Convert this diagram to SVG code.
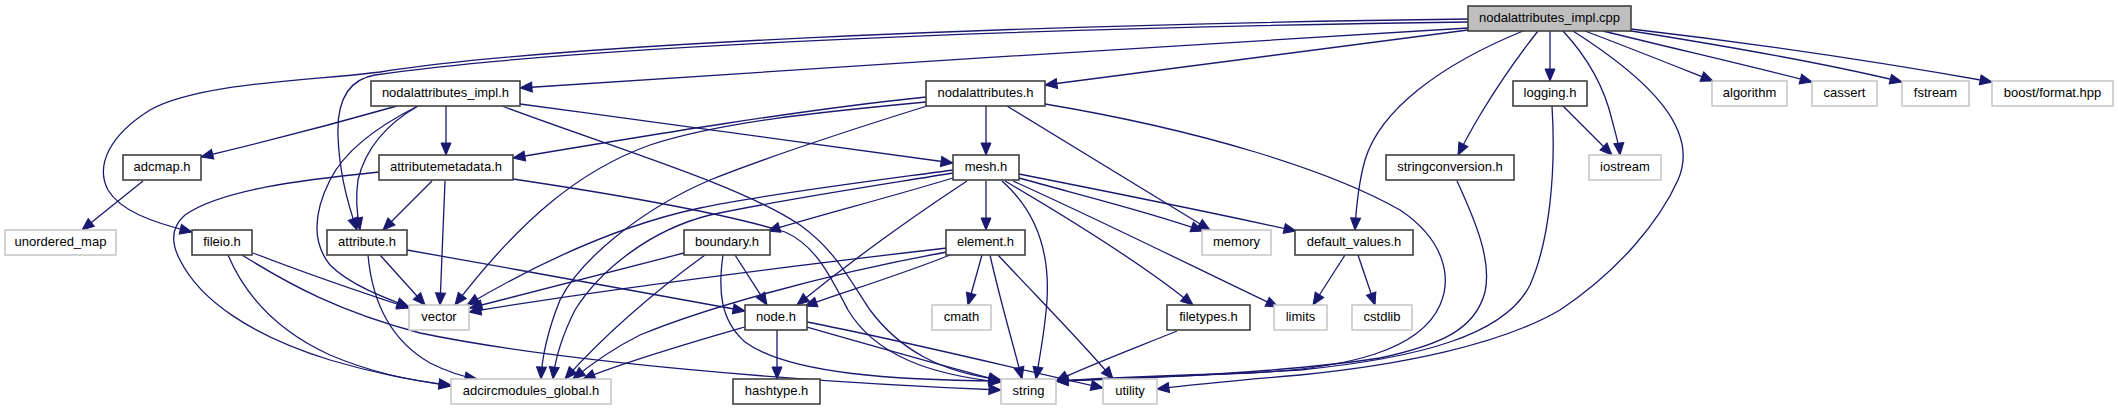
<svg xmlns="http://www.w3.org/2000/svg" width="2118" height="411" viewBox="0 0 2118 411">
<style>
.n rect{fill:#ffffff;stroke:#404040;stroke-width:1.6}
.x rect{fill:#ffffff;stroke:#c8c8c8;stroke-width:1.6}
.m rect{fill:#bfbfbf;stroke:#404040;stroke-width:1.6}
text{font-family:"Liberation Sans",Arial,sans-serif;font-size:13px;fill:#000;text-anchor:middle}
#edges path{fill:none;stroke:#191970;stroke-width:1.3;marker-end:url(#ah)}
</style>
<defs>
<marker id="ah" markerUnits="userSpaceOnUse" markerWidth="14" markerHeight="12" refX="12" refY="5" orient="auto" overflow="visible">
<path d="M0,0 L12,5 L0,10 z" fill="#191970" stroke="#191970" stroke-width="1"/>
</marker>
</defs>
<rect width="2118" height="411" fill="#ffffff"/>
<g id="edges">
<path d="M1468,28 C1200,45 800,68 520,88"/>
<path d="M1468,30 C1320,48 1180,68 1045,85"/>
<path d="M1468,22 C1000,28 560,48 375,75 C345,80 337,105 338,135 C339,170 348,205 357,230"/>
<path d="M1468,19 C1000,25 550,45 380,72 C320,80 200,82 150,110 C110,135 95,165 108,190 C120,210 150,222 192,232"/>
<path d="M1523,31 C1440,65 1380,110 1365,160 C1358,185 1356,210 1355,230"/>
<path d="M1538,31 C1515,60 1495,90 1480,115 C1470,132 1463,145 1458,155"/>
<path d="M1550,31 L1550,81"/>
<path d="M1563,31 C1590,60 1605,90 1612,120 C1616,135 1619,145 1620,155"/>
<path d="M1573,31 C1650,80 1700,130 1678,180 C1660,220 1620,270 1560,310 C1500,345 1400,365 1300,375 C1230,381 1190,385 1157,389"/>
<path d="M1585,31 C1630,48 1670,64 1713,81"/>
<path d="M1603,31 C1680,50 1750,66 1812,82"/>
<path d="M1625,30 C1720,45 1820,62 1902,82"/>
<path d="M1631,29 C1760,44 1880,62 1992,82"/>
<path d="M1563,106 L1612,155"/>
<path d="M1552,106 C1556,170 1550,240 1530,285 C1505,335 1420,358 1300,370 C1200,376 1100,379 1056,381"/>
<path d="M1457,181 C1475,220 1492,260 1485,292 C1475,330 1440,345 1380,358 C1280,373 1150,378 1056,381"/>
<path d="M1045,104 C1200,130 1330,170 1400,210 C1445,240 1452,278 1440,305 C1420,350 1350,368 1250,373 C1150,376 1090,379 1056,381"/>
<path d="M986,106 L986,155"/>
<path d="M926,97 C800,110 650,135 513,158"/>
<path d="M926,102 C820,112 720,122 650,145 C580,170 520,220 455,305"/>
<path d="M927,106 C850,130 760,160 710,180 C640,210 580,260 560,300 C548,330 542,355 541,379"/>
<path d="M1007,106 L1210,230"/>
<path d="M397,106 C330,125 260,143 201,157"/>
<path d="M446,106 L446,155"/>
<path d="M418,106 C385,125 365,150 358,180 C355,200 357,215 360,230"/>
<path d="M418,106 C380,125 345,150 330,180 C315,210 310,240 330,265 C350,285 385,298 409,307"/>
<path d="M520,104 C680,125 850,150 953,163"/>
<path d="M502,106 C620,150 740,185 800,225 C835,250 850,280 870,310 C900,350 940,372 1001,380"/>
<path d="M432,181 L383,230"/>
<path d="M445,181 L440,305"/>
<path d="M513,179 C620,195 730,215 785,232 C815,245 830,275 848,310 C875,355 930,375 1001,382"/>
<path d="M379,172 C300,180 220,190 185,215 C170,228 172,245 180,260 C200,300 250,335 330,360 C380,375 420,381 451,386"/>
<path d="M380,255 L425,305"/>
<path d="M368,255 C372,300 390,340 430,363 C450,373 465,377 477,379"/>
<path d="M407,250 C520,270 640,292 745,311"/>
<path d="M253,253 C310,275 360,292 409,308"/>
<path d="M228,255 C245,295 275,330 330,355 C370,372 410,381 451,385"/>
<path d="M242,255 C290,285 340,312 420,333 C560,362 800,382 1001,390"/>
<path d="M143,181 L82,230"/>
<path d="M953,178 C880,200 820,215 768,231"/>
<path d="M953,170 C880,180 760,195 700,208 C620,225 540,262 467,305"/>
<path d="M953,173 C880,185 780,200 710,215 C650,230 600,270 575,310 C560,340 555,360 553,379"/>
<path d="M967,181 C900,225 840,270 797,305"/>
<path d="M986,181 L986,230"/>
<path d="M1002,181 C1035,210 1050,250 1047,300 C1045,330 1040,355 1036,379"/>
<path d="M1019,178 C1080,195 1150,212 1203,231"/>
<path d="M1019,174 C1100,190 1200,210 1296,231"/>
<path d="M1013,181 C1100,220 1200,270 1278,307"/>
<path d="M1005,181 C1080,225 1150,270 1193,305"/>
<path d="M947,248 C800,265 600,290 469,312"/>
<path d="M947,252 C820,275 700,310 640,335 C610,350 590,365 573,379"/>
<path d="M950,255 C900,275 850,290 805,306"/>
<path d="M982,255 L968,305"/>
<path d="M990,255 C1000,300 1012,340 1022,379"/>
<path d="M998,255 C1040,300 1080,340 1113,379"/>
<path d="M684,253 C600,275 520,295 470,308"/>
<path d="M705,255 C650,295 600,340 565,379"/>
<path d="M735,255 L767,305"/>
<path d="M723,255 C718,290 720,320 745,342 C790,375 900,380 1001,381"/>
<path d="M745,327 C700,340 630,360 583,379"/>
<path d="M777,330 L777,379"/>
<path d="M807,327 C870,345 940,365 1001,381"/>
<path d="M807,322 C900,340 1000,365 1103,388"/>
<path d="M1177,331 C1130,350 1090,365 1056,381"/>
<path d="M1345,255 L1313,305"/>
<path d="M1358,255 L1375,305"/>
</g>
<g id="node_cpp" class="m"><rect x="1468" y="6" width="163" height="25"/><text x="1549.5" y="22">nodalattributes_impl.cpp</text></g>
<g id="node_nodalattributes_impl_h" class="n"><rect x="371" y="81" width="149" height="25"/><text x="445.5" y="97">nodalattributes_impl.h</text></g>
<g id="node_nodalattributes_h" class="n"><rect x="926" y="81" width="119" height="25"/><text x="985.5" y="97">nodalattributes.h</text></g>
<g id="node_logging_h" class="n"><rect x="1513" y="81" width="74" height="25"/><text x="1550" y="97">logging.h</text></g>
<g id="node_algorithm" class="x"><rect x="1712" y="81" width="75" height="25"/><text x="1749.5" y="97">algorithm</text></g>
<g id="node_cassert" class="x"><rect x="1812" y="81" width="65" height="25"/><text x="1844.5" y="97">cassert</text></g>
<g id="node_fstream" class="x"><rect x="1902" y="81" width="67" height="25"/><text x="1935.5" y="97">fstream</text></g>
<g id="node_boost_format" class="x"><rect x="1992" y="81" width="121" height="25"/><text x="2052.5" y="97">boost/format.hpp</text></g>
<g id="node_adcmap_h" class="n"><rect x="123" y="155" width="78" height="25"/><text x="162" y="171">adcmap.h</text></g>
<g id="node_attributemetadata_h" class="n"><rect x="379" y="155" width="134" height="25"/><text x="446" y="171">attributemetadata.h</text></g>
<g id="node_mesh_h" class="n"><rect x="953" y="155" width="66" height="25"/><text x="986" y="171">mesh.h</text></g>
<g id="node_stringconversion_h" class="n"><rect x="1386" y="155" width="128" height="25"/><text x="1450" y="171">stringconversion.h</text></g>
<g id="node_iostream" class="x"><rect x="1589" y="155" width="72" height="25"/><text x="1625" y="171">iostream</text></g>
<g id="node_unordered_map" class="x"><rect x="5" y="230" width="111" height="25"/><text x="60.5" y="246">unordered_map</text></g>
<g id="node_fileio_h" class="n"><rect x="192" y="230" width="60" height="25"/><text x="222" y="246">fileio.h</text></g>
<g id="node_attribute_h" class="n"><rect x="327" y="230" width="80" height="25"/><text x="367" y="246">attribute.h</text></g>
<g id="node_boundary_h" class="n"><rect x="684" y="230" width="86" height="25"/><text x="727" y="246">boundary.h</text></g>
<g id="node_element_h" class="n"><rect x="946" y="230" width="79" height="25"/><text x="985.5" y="246">element.h</text></g>
<g id="node_memory" class="x"><rect x="1202" y="230" width="69" height="25"/><text x="1236.5" y="246">memory</text></g>
<g id="node_default_values_h" class="n"><rect x="1295" y="230" width="118" height="25"/><text x="1354" y="246">default_values.h</text></g>
<g id="node_vector" class="x"><rect x="409" y="305" width="60" height="25"/><text x="439" y="321">vector</text></g>
<g id="node_node_h" class="n"><rect x="745" y="305" width="62" height="25"/><text x="776" y="321">node.h</text></g>
<g id="node_cmath" class="x"><rect x="932" y="305" width="59" height="25"/><text x="961.5" y="321">cmath</text></g>
<g id="node_filetypes_h" class="n"><rect x="1167" y="305" width="83" height="25"/><text x="1208.5" y="321">filetypes.h</text></g>
<g id="node_limits" class="x"><rect x="1274" y="305" width="53" height="25"/><text x="1300.5" y="321">limits</text></g>
<g id="node_cstdlib" class="x"><rect x="1352" y="305" width="60" height="25"/><text x="1382" y="321">cstdlib</text></g>
<g id="node_adcircmodules_global_h" class="x"><rect x="451" y="379" width="160" height="25"/><text x="531" y="395">adcircmodules_global.h</text></g>
<g id="node_hashtype_h" class="n"><rect x="733" y="379" width="87" height="25"/><text x="776.5" y="395">hashtype.h</text></g>
<g id="node_string" class="x"><rect x="1001" y="379" width="55" height="25"/><text x="1028.5" y="395">string</text></g>
<g id="node_utility" class="x"><rect x="1103" y="379" width="54" height="25"/><text x="1130" y="395">utility</text></g>
</svg>
